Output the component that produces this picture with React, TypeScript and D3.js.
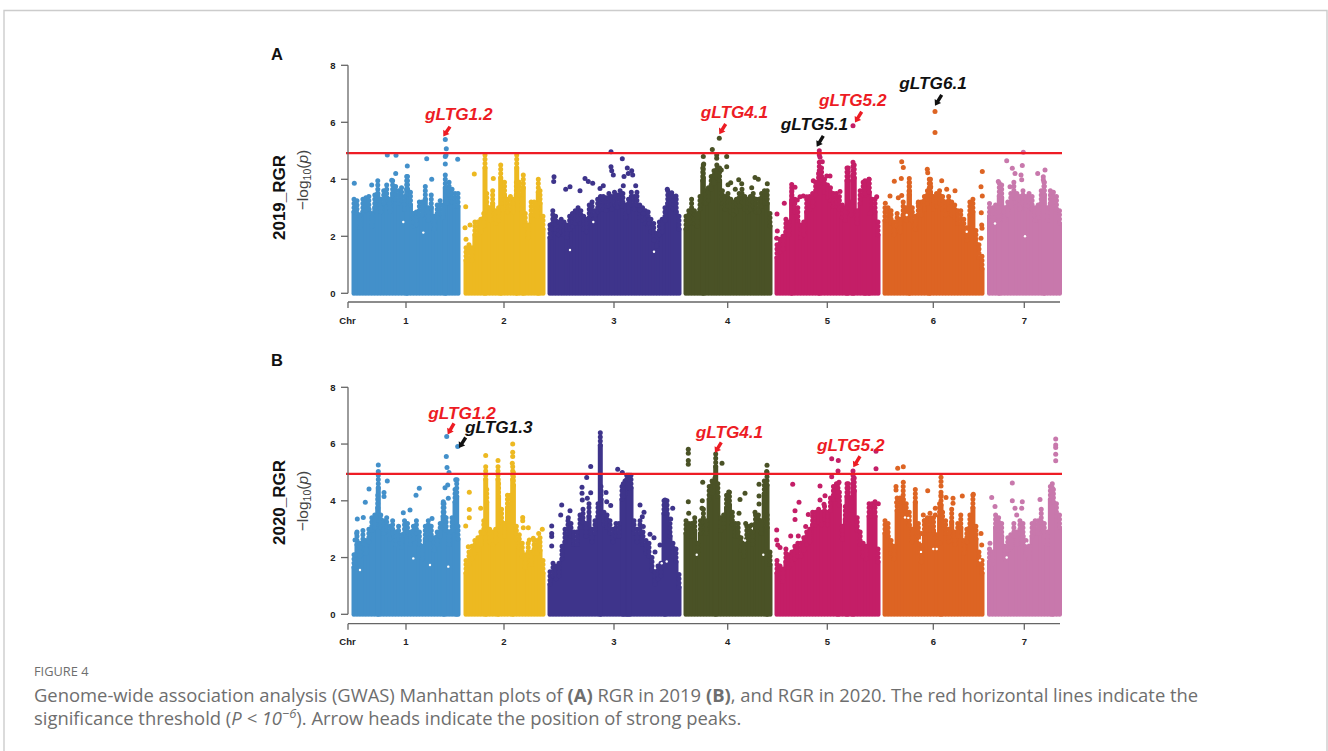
import React, { useEffect, useRef } from "react";
import * as d3 from "d3";

// Genome layout, cumulative position along the x axis
const chrNames = ["1", "2", "3", "4", "5", "6", "7"];
const chrTicks = [58, 156, 266, 379.7, 479.3, 585.3, 676.3];
const chrStart = [6, 118, 202, 338, 429, 537, 641.5];
const chrEnd = [110, 195, 331, 422, 530, 634, 711.5];
const chrColors = ["#4390CA", "#EDB921", "#3E348B", "#4A5226", "#C41E67", "#DD6423", "#C878AC"];
const yTicks = [0, 2, 4, 6, 8];

// Upper edge of the dense cloud of points, chromosome by chromosome
const tops2019 = [
  [3.3, 3.25, 2.75, 3.3, 3.35, 3.4, 2.8, 3.45, 3.95, 3.3, 3.6, 3.8, 3.3, 3.95, 3.75, 3.6, 3.7, 3.4, 4.1, 3.55, 2.8, 2.85, 3.2, 3.2, 3.75, 3.0, 3.45, 2.7, 3.1, 3.25, 3.1, 3.6, 3.9, 3.65, 3.5, 3.5],
  [1.6, 1.7, 1.6, 2.5, 2.5, 2.6, 2.8, 3.5, 3.0, 3.6, 2.9, 3.0, 3.6, 3.9, 3.3, 3.4, 3.3, 3.9, 3.9, 3.3, 2.8, 2.4, 3.2, 3.2, 3.15, 3.6, 2.7],
  [2.4, 2.9, 2.7, 2.5, 2.6, 2.5, 2.4, 2.7, 2.8, 2.9, 3.0, 2.9, 2.7, 2.6, 3.1, 3.2, 2.9, 3.3, 3.4, 3.4, 3.35, 3.5, 3.4, 3.55, 3.45, 3.6, 3.5, 3.1, 3.3, 3.55, 3.4, 3.55, 3.1, 3.0, 2.9, 2.85, 2.6, 2.45, 2.1, 2.5, 2.6, 3.0, 3.6, 3.5, 3.4, 3.3, 2.7],
  [2.7, 2.9, 3.3, 2.9, 2.8, 3.4, 4.4, 3.6, 3.7, 4.1, 4.3, 4.5, 4.4, 3.6, 3.4, 3.5, 3.3, 3.2, 3.3, 3.5, 3.65, 3.4, 3.3, 3.4, 3.5, 3.3, 3.3, 3.5, 3.6, 3.6, 2.8],
  [1.7, 1.9, 2.0, 2.6, 2.5, 3.6, 3.3, 3.0, 2.4, 2.5, 3.3, 3.4, 3.5, 3.9, 4.2, 4.4, 4.0, 3.8, 3.7, 3.5, 3.5, 3.4, 3.1, 3.0, 4.4, 3.2, 4.5, 2.9, 3.6, 3.9, 3.9, 4.0, 3.3, 3.3, 2.5],
  [3.0, 3.0, 2.9, 2.5, 2.8, 2.6, 3.2, 3.0, 3.9, 3.0, 2.7, 3.2, 3.2, 3.4, 3.6, 4.0, 3.4, 3.5, 3.6, 3.4, 3.2, 3.4, 3.2, 3.1, 2.9, 2.9, 2.6, 2.3, 3.2, 3.3, 2.2, 1.7, 1.3],
  [3.15, 3.0, 3.1, 3.0, 3.8, 3.0, 3.2, 3.5, 3.9, 3.5, 3.4, 3.6, 3.4, 3.5, 3.4, 3.0, 3.1, 3.6, 3.9, 3.0, 3.6, 3.55, 3.4, 2.9],
];
const tops2020 = [
  [2.1, 2.9, 2.5, 2.95, 2.6, 3.0, 3.4, 3.5, 4.2, 3.5, 3.3, 3.4, 3.1, 3.3, 2.9, 3.1, 2.8, 3.3, 3.2, 2.9, 3.1, 3.3, 2.9, 2.4, 3.1, 3.3, 3.1, 2.7, 2.9, 3.2, 3.9, 3.4, 2.9, 3.4, 4.4, 3.1],
  [1.9, 2.2, 2.4, 2.6, 2.7, 2.9, 3.3, 4.4, 3.0, 2.9, 3.0, 4.6, 3.7, 3.2, 4.2, 4.2, 5.0, 3.1, 2.8, 2.5, 2.1, 2.5, 2.2, 2.6, 2.6, 2.7, 1.9],
  [1.5, 1.8, 1.7, 1.8, 2.4, 3.0, 3.3, 3.2, 2.9, 2.9, 3.5, 3.7, 3.2, 3.9, 3.0, 3.3, 3.9, 4.5, 3.6, 3.5, 3.3, 3.0, 3.2, 3.2, 4.5, 4.7, 4.9, 4.9, 3.3, 3.0, 3.3, 2.9, 2.6, 2.5, 2.0, 1.5, 1.7, 1.8, 4.0, 4.0, 3.2, 2.5, 2.3, 1.4],
  [3.3, 3.2, 3.2, 3.4, 2.5, 3.3, 3.7, 3.3, 4.5, 4.7, 4.8, 4.6, 3.4, 3.5, 4.2, 4.3, 3.6, 3.2, 3.2, 2.7, 2.5, 3.1, 3.1, 2.9, 3.5, 3.5, 3.3, 4.7, 3.5, 2.2],
  [1.9, 1.7, 1.6, 2.3, 2.1, 2.2, 2.4, 2.5, 2.5, 2.7, 2.9, 3.0, 3.6, 3.6, 3.7, 3.6, 3.8, 3.6, 4.1, 4.5, 4.6, 4.3, 3.1, 3.8, 4.6, 4.1, 4.8, 3.4, 2.9, 2.5, 2.4, 3.9, 3.9, 3.9, 2.3],
  [3.3, 3.2, 2.6, 2.4, 4.1, 4.1, 4.5, 3.9, 3.6, 3.0, 4.4, 3.2, 2.3, 3.3, 3.4, 3.4, 3.4, 2.8, 3.9, 3.6, 3.3, 3.0, 3.7, 2.9, 3.2, 3.5, 2.6, 3.0, 3.5, 4.2, 3.1, 2.2, 1.9],
  [2.3, 2.2, 3.5, 3.4, 3.2, 2.4, 2.7, 2.8, 3.2, 2.9, 3.3, 3.2, 2.6, 2.4, 3.2, 3.3, 3.3, 3.7, 3.2, 2.9, 4.5, 4.4, 3.9, 3.5],
];

// Narrow columns that rise out of the cloud: [position, -log10(p)]
const spikes2019 = [
  [97.3, 4.15], [58.7, 4.1], [137, 4.85], [152.7, 4.5], [168.7, 4.85], [175.3, 4.15], [190.3, 4.0],
  [355.3, 4.5], [471.3, 4.6], [505, 4.6], [499, 4.4], [443.7, 3.7], [517, 3.95], [521, 4.0],
  [561.3, 4.03], [581.3, 4.0], [651.3, 3.86], [696, 3.9],
];
const spikes2020 = [
  [30.3, 4.9], [108.7, 4.6], [96, 3.9], [137.7, 5.2], [150, 5.2], [164.7, 5.2], [252.3, 6.4], [278.7, 4.9], [281.3, 4.9], [275.3, 4.6], [317, 4.03],
  [367.7, 5.65], [419, 5.0], [505, 5.05], [490, 4.6], [499, 4.6], [593, 4.3], [704.3, 4.6],
];

// Single points above the cloud: [chromosome index, position, -log10(p)]
const dots2019 = [
  [0, 6.3, 3.86], [0, 23.7, 3.8], [0, 39.3, 4.85], [0, 48, 4.84], [0, 47.7, 4.2], [0, 59.3, 4.47], [0, 78.7, 4.72], [0, 83.7, 4.0], [0, 97.3, 5.4], [0, 98.3, 5.07], [0, 98, 4.85], [0, 97.3, 4.8], [0, 97.3, 4.54], [0, 109.7, 4.7], [0, 43.7, 3.97],
  [1, 117.7, 3.04], [1, 126.3, 4.19], [1, 145.3, 4.03], [1, 122, 2.4], [1, 117, 2.3], [1, 118, 1.9],
  [2, 206, 4.09], [2, 205.7, 3.92], [2, 222, 3.74], [2, 217.7, 3.65], [2, 232, 3.6], [2, 237, 4.03], [2, 240.3, 3.92], [2, 244.7, 3.86], [2, 252, 3.68], [2, 255.3, 3.77], [2, 263, 4.97], [2, 274.3, 4.72], [2, 279.3, 4.4], [2, 283.7, 4.3], [2, 263, 4.44], [2, 263.7, 4.3], [2, 265.3, 4.15], [2, 276, 4.1], [2, 280.3, 4.2], [2, 284.7, 4.15], [2, 287.7, 3.77], [2, 275.3, 3.77], [2, 273.7, 3.49], [2, 292, 2.92], [2, 295.3, 2.8], [2, 301.3, 2.57], [2, 301.3, 2.45], [2, 306, 1.87], [2, 319.3, 3.65], [2, 323.7, 3.53], [2, 328, 3.41],
  [3, 355.3, 4.8], [3, 355.7, 4.54], [3, 364.3, 5.05], [3, 368.7, 4.85], [3, 368.7, 4.74], [3, 371.3, 5.44], [3, 378.7, 4.8], [3, 378.7, 4.44], [3, 373.3, 4.33], [3, 382.7, 3.88], [3, 390.7, 3.98], [3, 393.7, 3.84], [3, 407, 4.06], [3, 410.3, 4.0], [3, 419.3, 3.84], [3, 403.7, 3.7], [3, 380, 3.81], [3, 387.3, 3.65],
  [4, 429, 2.78], [4, 429.3, 2.19], [4, 428.7, 1.93], [4, 471.3, 5.0], [4, 471.3, 4.85], [4, 472, 4.77], [4, 474.3, 4.62], [4, 505, 5.88], [4, 455.3, 3.41], [4, 452, 3.39], [4, 458.7, 3.39], [4, 449.3, 3.27], [4, 436.3, 3.16], [4, 443.7, 3.82], [4, 447, 3.72], [4, 465.3, 3.95], [4, 482, 4.12], [4, 478.7, 4.12], [4, 528.7, 3.39], [4, 522, 2.8], [4, 492, 3.57],
  [5, 587, 6.38], [5, 587, 5.64], [5, 553.7, 4.62], [5, 555.3, 4.41], [5, 553.3, 4.03], [5, 546.3, 3.93], [5, 579.3, 4.35], [5, 579.7, 4.23], [5, 582.7, 3.74], [5, 593.7, 3.95], [5, 634.3, 4.27], [5, 633, 3.74], [5, 634.3, 3.41], [5, 633.3, 2.83], [5, 633.7, 2.4], [5, 634, 2.28], [5, 633, 1.93], [5, 542, 3.41], [5, 550.3, 3.35], [5, 553.7, 3.43], [5, 598.7, 3.65], [5, 607, 3.6], [5, 537.3, 3.16], [5, 570.3, 3.16],
  [6, 675.3, 4.95], [6, 658.7, 4.65], [6, 664.3, 4.39], [6, 674.3, 4.48], [6, 689.7, 4.2], [6, 697, 4.33], [6, 695.3, 4.09], [6, 695.3, 3.98], [6, 650.3, 3.92], [6, 667, 4.2], [6, 673, 4.15], [6, 673.7, 3.98], [6, 662, 3.74],
];
const dots2020 = [
  [0, 9.3, 3.36], [0, 15.3, 3.41], [0, 21, 4.42], [0, 17.3, 3.95], [0, 30.3, 5.26], [0, 30.3, 5.03], [0, 39.3, 4.7], [0, 36, 4.29], [0, 36, 4.15], [0, 55.3, 3.58], [0, 62, 3.68], [0, 68, 4.2], [0, 71.3, 4.44], [0, 98.7, 6.27], [0, 98.3, 5.56], [0, 99, 5.17], [0, 101, 5.0], [0, 109.7, 5.91], [0, 97, 4.46], [0, 99.7, 4.56], [0, 107.7, 4.74], [0, 109, 4.74], [0, 100.3, 4.09], [0, 95.3, 3.97], [0, 84, 3.38], [0, 8.7, 2.85], [0, 7, 2.62], [0, 7, 2.09],
  [1, 137.7, 5.6], [1, 150, 5.42], [1, 164.7, 6.0], [1, 164.7, 5.71], [1, 164.7, 5.56], [1, 164.3, 5.32], [1, 121.3, 4.3], [1, 121.3, 3.69], [1, 121.3, 3.4], [1, 117.7, 3.11], [1, 132.7, 3.74], [1, 174.7, 3.41], [1, 174.7, 3.3], [1, 175.3, 3.05], [1, 180.3, 3.05], [1, 194.3, 3.0], [1, 190.7, 2.85], [1, 185.3, 2.68], [1, 181.3, 2.62], [1, 120.3, 2.38],
  [2, 203.7, 3.11], [2, 203.7, 2.85], [2, 203.7, 2.74], [2, 203.7, 2.41], [2, 213.7, 3.85], [2, 212.7, 3.5], [2, 222, 3.65], [2, 220.3, 3.4], [2, 234, 4.48], [2, 234, 4.27], [2, 234.3, 4.03], [2, 238.7, 4.82], [2, 242.7, 5.21], [2, 242.7, 4.28], [2, 239.3, 4.09], [2, 258, 4.29], [2, 262.7, 3.83], [2, 258.7, 3.97], [2, 269.7, 5.11], [2, 274.3, 5.0], [2, 292, 3.85], [2, 296, 3.6], [2, 294.3, 3.44], [2, 295.3, 3.09], [2, 302, 2.82], [2, 306, 2.7], [2, 307, 2.2], [2, 312, 2.44], [2, 324.7, 3.74], [2, 322.7, 3.36],
  [3, 340.3, 5.82], [3, 340.3, 5.68], [3, 340.3, 5.42], [3, 340.3, 5.29], [3, 374, 5.32], [3, 354.7, 4.65], [3, 340.3, 3.97], [3, 354.3, 4.0], [3, 340.7, 3.56], [3, 354, 3.74], [3, 411, 4.58], [3, 411, 4.17], [3, 411, 3.89], [3, 397, 4.27], [3, 392, 4.05], [3, 380.7, 4.31], [3, 391, 3.56], [3, 397.7, 3.2], [3, 403.7, 3.15], [3, 407, 3.6], [3, 419, 5.25], [3, 418.7, 5.03],
  [4, 428.7, 2.97], [4, 428.7, 2.62], [4, 429.7, 2.44], [4, 432, 2.35], [4, 442.7, 2.76], [4, 450.3, 2.76], [4, 447, 3.65], [4, 447, 3.34], [4, 451, 3.95], [4, 444.7, 4.58], [4, 457.7, 3.09], [4, 460.3, 3.52], [4, 472, 4.52], [4, 483.7, 5.48], [4, 490.3, 5.42], [4, 490, 5.05], [4, 483.7, 4.85], [4, 491, 4.65], [4, 528, 5.75], [4, 528, 5.13], [4, 477, 4.18], [4, 472, 4.03], [4, 476, 3.88], [4, 530.3, 3.9], [4, 527, 3.97],
  [5, 549.7, 5.15], [5, 555.3, 5.2], [5, 593, 4.83], [5, 593, 4.68], [5, 593, 4.52], [5, 593, 4.2], [5, 598, 4.12], [5, 605, 4.09], [5, 605, 3.91], [5, 614.3, 4.17], [5, 625.3, 4.23], [5, 579.7, 4.35], [5, 548, 4.5], [5, 548, 4.38], [5, 555.3, 4.65], [5, 548.7, 3.94], [5, 587.3, 3.74], [5, 587.3, 3.5], [5, 575.3, 3.5], [5, 582, 3.56], [5, 576.3, 3.3], [5, 573.7, 2.85], [5, 587, 2.7], [5, 633, 2.85], [5, 633.7, 2.44], [5, 592, 2.5], [5, 572, 2.44],
  [6, 707.7, 6.18], [6, 707.7, 5.97], [6, 707.7, 5.88], [6, 707.7, 5.64], [6, 707.7, 5.41], [6, 664.3, 4.63], [6, 643.7, 4.12], [6, 647, 3.8], [6, 664.3, 4.0], [6, 674.3, 3.97], [6, 692, 4.05], [6, 667, 3.74], [6, 673.7, 3.74], [6, 668.7, 3.5], [6, 642, 2.5],
];

// Empty spots left inside the cloud: [position, -log10(p)]
const gaps2019 = [
  [55.3, 2.5], [75.3, 2.13], [222, 1.52], [245.3, 2.5], [306, 1.46], [558.7, 2.75], [618.7, 2.16], [647, 2.45], [677, 2.0],
];
const gaps2020 = [
  [12, 1.56], [65.3, 1.97], [82, 1.74], [100.3, 1.68], [313.7, 1.8], [318.7, 1.86], [348.7, 2.1], [397, 2.6], [415.3, 2.1],
  [557, 3.41], [560.3, 3.4], [572, 2.6], [573, 2.2], [585.3, 2.3], [588.7, 2.3], [632, 1.9], [658.7, 2.0], [678.7, 2.5],
];

// Named loci: label, colour, label anchor, arrow tail and arrow tip in data units
const loci2019 = [
  { name: "gLTG1.2", color: "#ED1C24", at: [77, 6.08], tail: [102, 5.85], tip: [95.3, 5.5] },
  { name: "gLTG4.1", color: "#ED1C24", at: [352.7, 6.14], tail: [377.7, 5.94], tip: [371.3, 5.58] },
  { name: "gLTG5.1", color: "#111111", at: [432.7, 5.73], tail: [475.3, 5.52], tip: [468.7, 5.14] },
  { name: "gLTG5.2", color: "#ED1C24", at: [471, 6.57], tail: [513.7, 6.37], tip: [507, 5.99] },
  { name: "gLTG6.1", color: "#111111", at: [551.3, 7.16], tail: [593.7, 6.96], tip: [587, 6.58] },
];
const loci2020 = [
  { name: "gLTG1.2", color: "#ED1C24", at: [80.3, 6.9], tail: [106, 6.73], tip: [99.7, 6.34] },
  { name: "gLTG1.3", color: "#111111", at: [117, 6.39], tail: [117.7, 6.23], tip: [111, 5.86] },
  { name: "gLTG4.1", color: "#ED1C24", at: [347.7, 6.23], tail: [373.3, 6.06], tip: [367, 5.69] },
  { name: "gLTG5.2", color: "#ED1C24", at: [469, 5.77], tail: [512, 5.57], tip: [505.3, 5.18] },
];

const sansBold = "'Liberation Sans', Arial, sans-serif";
const captionFont = "'Open Sans', Lato, sans-serif";
const dotWidth = 5;

function drawPanel(svg, p) {
  const x = d3.scaleLinear().domain([0, 712]).range([348, 1060]);
  const y = d3.scaleLinear().domain([0, 8]).range([p.y0, p.y8]);
  const g = svg.append("g");

  // Point cloud: solid lower part, beaded upper part so the edge reads as dots
  p.tops.forEach((tops, c) => {
    const pos = d3.scaleLinear().domain([0, tops.length - 1]).range([chrStart[c], chrEnd[c]]);
    const cols = tops.map((t, i) => [pos(i), t]);
    const extra = p.spikes.filter(s => s[0] >= chrStart[c] - 4 && s[0] <= chrEnd[c] + 4);
    const all = cols.concat(extra);
    const layer = g.append("g")
      .attr("stroke", chrColors[c])
      .attr("stroke-width", dotWidth)
      .attr("stroke-linecap", "round");
    layer.selectAll(".solid")
      .data(all)
      .join("line")
      .attr("class", "solid")
      .attr("x1", d => x(d[0]))
      .attr("x2", d => x(d[0]))
      .attr("y1", y(0))
      .attr("y2", d => y(d[1] - 0.45));
    layer.selectAll(".bead")
      .data(all)
      .join("line")
      .attr("class", "bead")
      .attr("stroke-dasharray", "0 4.2")
      .attr("x1", d => x(d[0]))
      .attr("x2", d => x(d[0]))
      .attr("y1", d => y(d[1]))
      .attr("y2", d => y(d[1] - 0.45));
  });

  g.append("g")
    .attr("fill", "white")
    .selectAll("circle")
    .data(p.gaps)
    .join("circle")
    .attr("cx", d => x(d[0]))
    .attr("cy", d => y(d[1]))
    .attr("r", 1.2);

  g.append("g")
    .selectAll("circle")
    .data(p.dots)
    .join("circle")
    .attr("cx", d => x(d[1]))
    .attr("cy", d => y(d[2]))
    .attr("r", dotWidth / 2)
    .attr("fill", d => chrColors[d[0]]);

  // Threshold
  g.append("line")
    .attr("x1", x(-2))
    .attr("x2", x(714))
    .attr("y1", y(p.threshold))
    .attr("y2", y(p.threshold))
    .attr("stroke", "#EE1C25")
    .attr("stroke-width", 2.2);

  // Axes
  const axisColor = "#666666";
  const left = g.append("g").attr("stroke", axisColor).attr("stroke-width", 1.3);
  left.append("line").attr("x1", x(0)).attr("x2", x(0)).attr("y1", y(0)).attr("y2", y(8));
  left.selectAll(".tick").data(yTicks).join("line").attr("class", "tick")
    .attr("x1", x(0) - 7).attr("x2", x(0)).attr("y1", d => y(d)).attr("y2", d => y(d));
  g.selectAll(".ylab").data(yTicks).join("text").attr("class", "ylab")
    .attr("x", 333).attr("y", d => y(d) + 3.3)
    .attr("text-anchor", "middle")
    .style("font", `bold 9.5px ${sansBold}`).attr("fill", "#222")
    .text(d => d);

  const bottom = g.append("g").attr("stroke", axisColor).attr("stroke-width", 1.3);
  bottom.append("line").attr("x1", x(0)).attr("x2", x(712)).attr("y1", p.axisY).attr("y2", p.axisY);
  bottom.selectAll(".tick").data([0, ...chrTicks]).join("line").attr("class", "tick")
    .attr("x1", d => x(d)).attr("x2", d => x(d)).attr("y1", p.axisY).attr("y2", p.axisY + 6);
  g.selectAll(".xlab").data(chrNames).join("text").attr("class", "xlab")
    .attr("x", (d, i) => x(chrTicks[i])).attr("y", p.axisY + 21.5)
    .attr("text-anchor", "middle")
    .style("font", `bold 9.5px ${sansBold}`).attr("fill", "#222")
    .text(d => d);
  g.append("text").attr("x", x(0) - 0.5).attr("y", p.axisY + 21.5).attr("text-anchor", "middle")
    .style("font", `bold 9.5px ${sansBold}`).attr("fill", "#222").text("Chr");

  // Panel letter and y titles
  g.append("text").attr("x", 271).attr("y", p.letterY)
    .style("font", `bold 16.5px ${sansBold}`).attr("fill", "#111").text(p.letter);
  g.append("text")
    .attr("transform", `translate(284.5,${p.titleY}) rotate(-90)`)
    .attr("text-anchor", "middle")
    .style("font", `bold 17px ${sansBold}`).attr("fill", "#111")
    .text(p.title);
  const sub = g.append("text")
    .attr("transform", `translate(307.5,${p.subY}) rotate(-90)`)
    .attr("text-anchor", "middle")
    .style("font", `15.5px ${sansBold}`).attr("fill", "#444");
  sub.append("tspan").text("\u2212log");
  sub.append("tspan").attr("dy", 3).style("font-size", "10.5px").text("10");
  sub.append("tspan").attr("dy", -3).text("(");
  sub.append("tspan").style("font-style", "italic").text("p");
  sub.append("tspan").text(")");

  // Locus labels and arrows
  p.loci.forEach(l => {
    g.append("text")
      .attr("x", x(l.at[0])).attr("y", y(l.at[1]))
      .style("font", `italic bold 17.2px ${sansBold}`).attr("fill", l.color)
      .text(l.name);
    const x0 = x(l.tail[0]), y0 = y(l.tail[1]);
    const x1 = x(l.tip[0]), y1 = y(l.tip[1]);
    const len = Math.hypot(x1 - x0, y1 - y0);
    const a = (Math.atan2(y1 - y0, x1 - x0) * 180) / Math.PI;
    const headLen = 5.5;
    const shape = d3.path();
    shape.moveTo(0, -1.7);
    shape.lineTo(len - headLen, -1.7);
    shape.lineTo(len - headLen, -3.8);
    shape.lineTo(len, 0);
    shape.lineTo(len - headLen, 3.8);
    shape.lineTo(len - headLen, 1.7);
    shape.lineTo(0, 1.7);
    shape.closePath();
    g.append("path")
      .attr("transform", `translate(${x0},${y0}) rotate(${a})`)
      .attr("d", shape.toString())
      .attr("fill", l.color);
  });
}

export default function App() {
  const svgRef = useRef(null);

  useEffect(() => {
    const svg = d3.select(svgRef.current);
    svg.selectAll("*").remove();

    // Card outline
    svg.append("path")
      .attr("d", "M4 751 V10.5 H1327 V751")
      .attr("fill", "none")
      .attr("stroke", "#cccccc")
      .attr("stroke-width", 1.4);

    drawPanel(svg, {
      tops: tops2019, spikes: spikes2019, dots: dots2019, gaps: gaps2019, loci: loci2019,
      threshold: 4.92, y0: 293.3, y8: 65.3, axisY: 302, letter: "A", letterY: 60,
      title: "2019_RGR", titleY: 197.5, subY: 180,
    });
    drawPanel(svg, {
      tops: tops2020, spikes: spikes2020, dots: dots2020, gaps: gaps2020, loci: loci2020,
      threshold: 4.95, y0: 614.3, y8: 387.3, axisY: 623.7, letter: "B", letterY: 365.7,
      title: "2020_RGR", titleY: 502.5, subY: 501,
    });

    // Caption
    const cap = svg.append("g").attr("fill", "#6e6e6e");
    cap.append("text").attr("x", 34).attr("y", 676)
      .style("font", `12.8px ${captionFont}`).text("FIGURE 4");
    const l1 = cap.append("text").attr("x", 34).attr("y", 702).style("font", `18.4px ${captionFont}`);
    l1.append("tspan").text("Genome-wide association analysis (GWAS) Manhattan plots of ");
    l1.append("tspan").style("font-weight", "bold").text("(A)");
    l1.append("tspan").text(" RGR in 2019 ");
    l1.append("tspan").style("font-weight", "bold").text("(B)");
    l1.append("tspan").text(", and RGR in 2020. The red horizontal lines indicate the");
    const l2 = cap.append("text").attr("x", 34).attr("y", 725).style("font", `18.4px ${captionFont}`);
    l2.append("tspan").text("significance threshold (");
    l2.append("tspan").style("font-style", "italic").text("P < 10");
    l2.append("tspan").attr("dy", -7).style("font-size", "13px").style("font-style", "italic").text("\u22126");
    l2.append("tspan").attr("dy", 7).text("). Arrow heads indicate the position of strong peaks.");
  }, []);

  return (
    <svg
      ref={svgRef}
      width={1328}
      height={751}
      style={{ position: "absolute", left: 0, top: 0, background: "white" }}
    />
  );
}
